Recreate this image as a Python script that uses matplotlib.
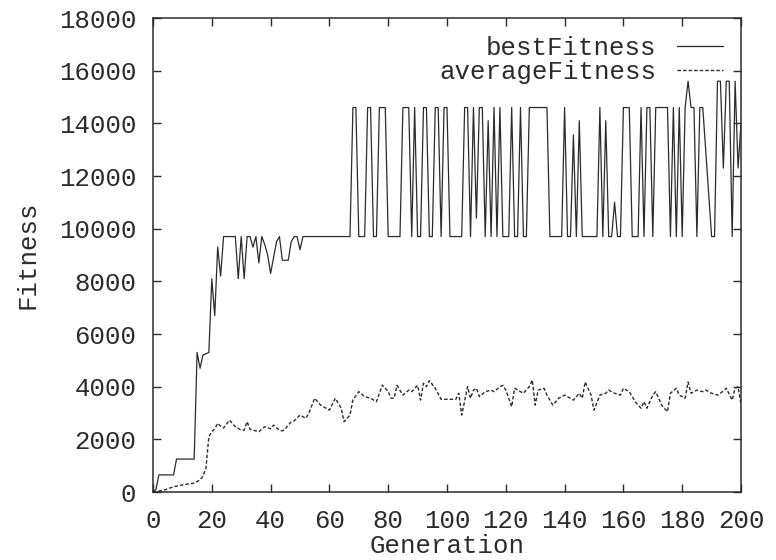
import matplotlib
matplotlib.use("Agg")
import matplotlib.pyplot as plt

H = 14600
L = 9700

# best fitness as (generation, value) vertices
best_gen = [0, 1, 2, 7, 8, 14, 15, 16, 17, 19, 20, 21, 22, 23, 24, 28, 29, 30, 31, 32,
            33, 34, 35, 36, 37, 38, 39, 40, 42, 43, 44, 46, 47, 48, 49, 50, 51, 67,
            68, 69, 70, 72, 73, 74, 75, 76, 77, 79, 80, 84, 85, 87, 88, 89, 90, 91,
            92, 93, 94, 95, 96, 97, 98, 99, 100, 101, 105, 106, 107, 108, 109, 110,
            111, 112, 113, 114, 115, 116, 117, 118, 119, 121, 122, 123, 124, 125,
            126, 127, 128, 134, 135, 139, 140, 141, 142, 143, 144, 145, 146, 151,
            152, 153, 154, 155, 156, 157, 158, 159, 160, 162, 163, 165, 166, 167,
            168, 169, 170, 171, 175, 176, 177, 178, 179, 180, 181, 182, 183, 184,
            185, 186, 187, 190, 191, 192, 193, 194, 195, 196, 197, 198, 199, 200]
best_fit = [0, 100, 650, 650, 1250, 1250, 5300, 4700, 5200, 5300, 8100, 6700, 9300, 8200,
            9700, 9700, 8100, 9700, 8100, 9700, 9700, 9300, 9700, 8700, 9700, 9400, 9000,
            8300, 9500, 9700, 8800, 8800, 9500, 9700, 9700, 9200, 9700, 9700,
            H, H, L, L, H, H, L, L, H, H, L, L, H, H, L, H, L, L,
            H, H, L, L, H, H, L, H, H, L, L, H, H, L, H, 10400,
            H, H, L, 14100, L, H, L, H, L, L, H, L, L, H,
            L, L, H, H, L, L, H, L, L, 13560, L, 14100, L, L,
            H, L, 14100, L, L, 11000, L, L, H, H, L, L, H, L,
            H, H, L, H, H, L, H, L, H, L, H, 15600, H, H,
            L, H, H, L, L, 15600, 15600, 12300, 15600, 15600, 9700, 15600, 12300, 14000]

# average fitness
avg_gen = [0, 2, 4, 7, 10, 14, 16, 17, 18, 19, 20, 21, 22, 23, 24, 26, 28, 30, 31, 32,
           33, 36, 38, 40, 41, 43, 44, 45, 47, 48, 50, 52, 53, 55, 57, 60, 62, 64, 65,
           67, 68, 70, 72, 74, 76, 78, 80, 81, 82, 83, 85, 87, 88, 90, 91, 92, 93, 94,
           96, 98, 100, 103, 104, 105, 107, 108, 109, 110, 111, 113, 115, 116, 118,
           119, 120, 122, 123, 125, 126, 128, 129, 130, 131, 133, 134, 136, 138, 140,
           141, 143, 145, 146, 147, 149, 150, 152, 154, 155, 157, 159, 160, 162, 164,
           166, 167, 168, 170, 171, 173, 175, 176, 178, 179, 181, 182, 183, 185, 187,
           188, 190, 192, 193, 195, 197, 198, 199, 200]
avg_fit = [0, 40, 80, 200, 270, 340, 460, 600, 900, 2100, 2290, 2400, 2610, 2500, 2430,
           2730, 2480, 2350, 2350, 2670, 2380, 2290, 2480, 2400, 2540, 2350, 2320, 2400,
           2670, 2700, 2920, 2800, 2990, 3560, 3300, 3110, 3560, 3180, 2670, 2920, 3500,
           3810, 3620, 3560, 3430, 4060, 3810, 3560, 3560, 4050, 3680, 3870, 3810, 4050,
           3490, 4130, 4000, 4230, 3940, 3520, 3520, 3520, 3750, 2920, 4000, 3560, 3870,
           3940, 3620, 3810, 3870, 3810, 4000, 4050, 3870, 3240, 3940, 3810, 3750, 4000,
           4250, 3300, 3870, 3940, 3680, 3300, 3560, 3680, 3620, 3490, 3750, 3560, 4180,
           3680, 3110, 3680, 3750, 3870, 3750, 3680, 3940, 3810, 3430, 3180, 3430, 3180,
           3680, 3810, 3300, 3050, 3750, 3940, 3680, 3560, 4180, 3750, 3870, 3810, 3870,
           3750, 3680, 3750, 3940, 3490, 3940, 4000, 3340]

x_ticks = list(range(0, 201, 20))
y_ticks = list(range(0, 18001, 2000))

ink = "#2b2b2b"
plt.rcParams['font.family'] = ['Liberation Mono', 'DejaVu Sans Mono']
plt.rcParams['text.color'] = ink
plt.rcParams['axes.labelcolor'] = ink
plt.rcParams['xtick.color'] = ink
plt.rcParams['ytick.color'] = ink

fig = plt.figure(figsize=(7.76, 5.6), dpi=100)
ax = fig.add_axes([153 / 776, 68 / 560, 588 / 776, 474 / 560])

ax.plot(best_gen, best_fit, color=ink, lw=0.9, label="bestFitness")
ax.plot(avg_gen, avg_fit, color=ink, lw=1.0, ls=(0, (2.5, 1.5)), label="averageFitness")

ax.set_xlim(0, 200)
ax.set_ylim(0, 18000)
ax.set_xticks(x_ticks)
ax.set_yticks(y_ticks)
ax.tick_params(direction="in", length=6, width=1, top=True, right=True, labelsize=18.5)
ax.tick_params(axis="y", pad=12)
ax.tick_params(axis="x", pad=12)
for s in ax.spines.values():
    s.set_linewidth(1.1)
    s.set_color(ink)

ax.set_xlabel("Generation", fontsize=18.5, labelpad=1)
ax.set_ylabel("Fitness", fontsize=18.5, labelpad=14)

ax.legend(loc="upper right", frameon=False, markerfirst=False, fontsize=18.5,
          handlelength=1.8, handletextpad=0.8, labelspacing=0.0,
          borderaxespad=0.3, bbox_to_anchor=(1.0, 1.0))

fig.savefig("out.png", dpi=100)
